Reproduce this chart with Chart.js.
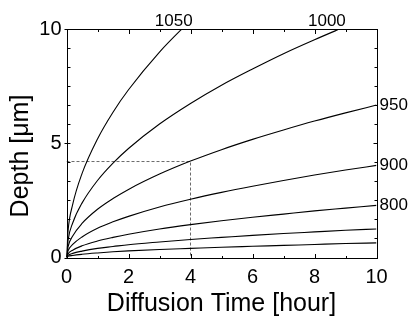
<!DOCTYPE html>
<html><head><meta charset="utf-8">
<script src="https://cdn.jsdelivr.net/npm/chart.js@4.4.0/dist/chart.umd.min.js"></script>
<style>html,body{margin:0;padding:0;background:#fff;overflow:hidden}#wrap{width:411px;height:320px;position:relative}</style>
</head><body><div id="wrap"><canvas id="c" width="411" height="320"></canvas></div>
<script>
// ---- data ----
const times      = [0, 0.05, 0.2, 0.5, 1, 1.5, 2, 3, 4, 5, 6, 7, 8, 9, 10];
const depth1050  = [0, 1.16, 2.32, 3.67, 5.19, 6.36, 7.34, 8.99, 10.38, null, null, null, null, null, null];
const depth1000  = [0, 0.75, 1.51, 2.38, 3.37, 4.13, 4.77, 5.84, 6.74, 7.54, 8.25, 8.92, 9.53, 10.11, null];
const depth950   = [0, 0.47, 0.94, 1.49, 2.11, 2.58, 2.98, 3.65, 4.22, 4.72, 5.17, 5.58, 5.97, 6.33, 6.67];
const depth900   = [0, 0.29, 0.57, 0.90, 1.28, 1.56, 1.80, 2.21, 2.55, 2.85, 3.12, 3.37, 3.61, 3.83, 4.03];
const depth800   = [0, 0.16, 0.32, 0.51, 0.72, 0.88, 1.02, 1.25, 1.44, 1.61, 1.76, 1.90, 2.04, 2.16, 2.28];
const depthLow1  = [0, 0.09, 0.18, 0.28, 0.40, 0.48, 0.56, 0.68, 0.79, 0.88, 0.97, 1.05, 1.12, 1.19, 1.25];
const depthLow2  = [0, 0.05, 0.09, 0.14, 0.20, 0.25, 0.29, 0.35, 0.40, 0.45, 0.49, 0.53, 0.57, 0.61, 0.64];
const curveNames = ['1050', '1000', '950', '900', '800', '', ''];
const topLabelTimes = [3.46, 8.4];           // where the 1050 / 1000 labels sit above the frame
const guideTimes  = [0, 4, 4];
const guideDepths = [4.2, 4.2, 0];
const xTickLabels = [0, 2, 4, 6, 8, 10];
const yTickLabels = [0, 5, 10];
const xMinorTicks = [0, 1, 2, 3, 4, 5, 6, 7, 8, 9, 10];
const yMinorTicks = [0, 0.8333, 1.6667, 2.5, 3.3333, 4.1667, 5, 5.8333, 6.6667, 7.5, 8.3333, 9.1667, 10];
const X_TITLE = 'Diffusion Time [hour]';
const Y_TITLE = 'Depth [\u03bcm]';

const series = [depth1050, depth1000, depth950, depth900, depth800, depthLow1, depthLow2];
const toPts = (xs, ys) => xs.map((x, i) => ({x: x, y: ys[i]}));

const datasets = series.map((arr, i) => ({
  label: curveNames[i] || ('curve' + i),
  data: toPts(times, arr),
  borderColor: '#000', borderWidth: 1.1, pointRadius: 0,
  cubicInterpolationMode: 'monotone', fill: false, spanGaps: false
}));
datasets.push({
  label: 'guide', data: toPts(guideTimes, guideDepths),
  borderColor: '#444', borderWidth: 0.8, borderDash: [3, 2], pointRadius: 0, tension: 0, fill: false
});

const FONT = 'Liberation Sans, Arial, Helvetica, sans-serif';

const framePlugin = {
  id: 'frame',
  afterDatasetsDraw(chart) {
    const {ctx, chartArea: a, scales: {x, y}} = chart;
    ctx.save();
    ctx.strokeStyle = '#000';
    ctx.lineWidth = 1;
    const L = Math.round(a.left) + 0.5, R = Math.round(a.right) + 0.5;
    const T = Math.round(a.top) + 0.5, B = Math.round(a.bottom) + 0.5;
    ctx.strokeRect(L, T, R - L, B - T);
    ctx.beginPath();
    xMinorTicks.forEach(v => {
      const px = Math.round(x.getPixelForValue(v)) + 0.5;
      const major = xTickLabels.includes(v);
      const len = major ? 4.5 : 2.5;
      ctx.moveTo(px, B); ctx.lineTo(px, B - len);
      ctx.moveTo(px, T); ctx.lineTo(px, T + len);
    });
    yMinorTicks.forEach(v => {
      const py = Math.round(y.getPixelForValue(v)) + 0.5;
      const major = yTickLabels.some(t => Math.abs(t - v) < 1e-3);
      if (major) { ctx.moveTo(L - 3, py); ctx.lineTo(L + 3, py); }
      else { ctx.moveTo(L, py); ctx.lineTo(L + 3, py); }
      ctx.moveTo(R, py); ctx.lineTo(R - (major ? 4 : 3), py);
    });
    ctx.stroke();

    // curve labels
    ctx.fillStyle = '#000';
    ctx.font = '17px ' + FONT;
    ctx.textAlign = 'center';
    ctx.textBaseline = 'alphabetic';
    topLabelTimes.forEach((t, i) => {
      ctx.fillText(curveNames[i], x.getPixelForValue(t), a.top - 3.3);
    });
    ctx.textAlign = 'left';
    ctx.textBaseline = 'middle';
    for (let i = topLabelTimes.length; i < series.length; i++) {
      if (!curveNames[i]) continue;
      const last = series[i][series[i].length - 1];
      ctx.fillText(curveNames[i], a.right + 3, y.getPixelForValue(last));
    }

    // y title
    ctx.font = '25px ' + FONT;
    ctx.textAlign = 'center';
    ctx.textBaseline = 'middle';
    ctx.translate(21, 156);
    ctx.rotate(-Math.PI / 2);
    ctx.fillText(Y_TITLE, 0, 0);
    ctx.restore();
  }
};

new Chart(document.getElementById('c'), {
  type: 'line',
  data: {datasets},
  options: {
    responsive: false, animation: false, devicePixelRatio: 1,
    layout: {padding: {top: 29, right: 34.5, left: 0, bottom: 0}},
    plugins: {legend: {display: false}, tooltip: {enabled: false}, title: {display: false}},
    scales: {
      x: {
        type: 'linear', min: 0, max: 10,
        grid: {display: false, drawTicks: false}, border: {display: false},
        afterBuildTicks: s => { s.ticks = xTickLabels.map(v => ({value: v})); },
        afterFit: s => { s.height = 62.5; },
        ticks: {color: '#000', font: {family: FONT, size: 20}, padding: 7.5, maxRotation: 0,
                callback: v => String(v)},
        title: {display: true, text: X_TITLE, color: '#000', font: {family: FONT, size: 25},
                padding: {top: 0, bottom: 0.5}}
      },
      y: {
        type: 'linear', min: 0, max: 10,
        grid: {display: false, drawTicks: false}, border: {display: false},
        afterBuildTicks: s => { s.ticks = yTickLabels.map(v => ({value: v})); },
        afterFit: s => { s.width = 66.5; },
        ticks: {color: '#000', font: {family: FONT, size: 20}, padding: 5,
                callback: v => String(v)}
      }
    }
  },
  plugins: [framePlugin]
});
</script></body></html>
